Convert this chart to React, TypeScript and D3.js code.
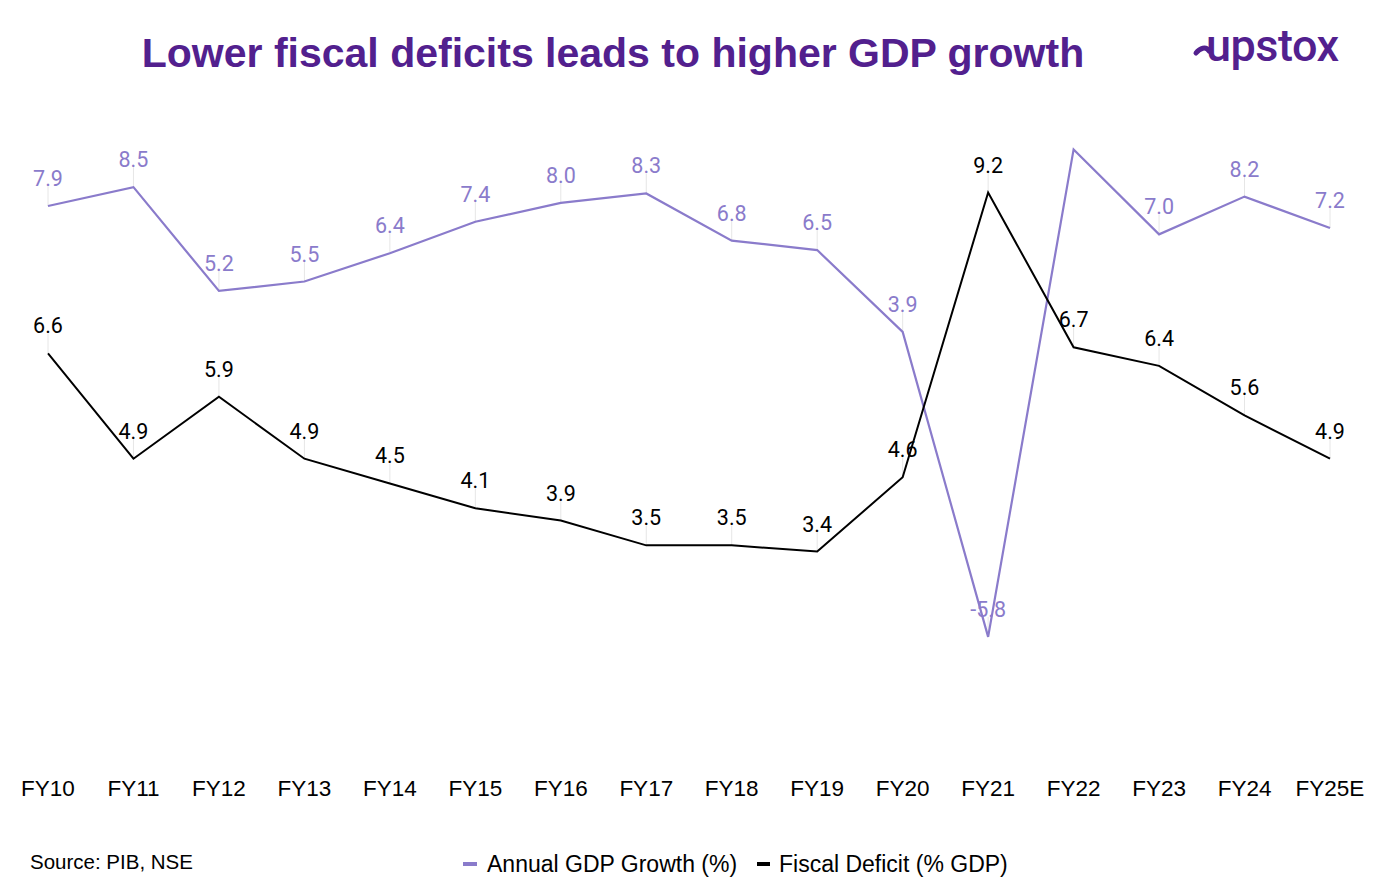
import React from "react";
import * as d3 from "d3";

const categories = ["FY10","FY11","FY12","FY13","FY14","FY15","FY16","FY17","FY18","FY19","FY20","FY21","FY22","FY23","FY24","FY25E"];
const gdpGrowth = [7.9, 8.5, 5.2, 5.5, 6.4, 7.4, 8.0, 8.3, 6.8, 6.5, 3.9, -5.8, 9.7, 7.0, 8.2, 7.2];
const gdpLabelShown = [true,true,true,true,true,true,true,true,true,true,true,true,false,true,true,true];
const fiscalDeficit = [6.6, 4.9, 5.9, 4.9, 4.5, 4.1, 3.9, 3.5, 3.5, 3.4, 4.6, 9.2, 6.7, 6.4, 5.6, 4.9];

const W = 1379, H = 892;
const PURPLE = "#8a7bcb";
const TITLE = "#52208e";

export default function App() {
  const x = d3.scalePoint<string>().domain(categories).range([48, 1330]);
  const yG = d3.scaleLinear().domain([-10, 10]).range([769, 140]);
  const yF = d3.scaleLinear().domain([0, 10]).range([762, 143]);
  const lineG = d3.line<number>().x((_, i) => x(categories[i])!).y((d) => yG(d));
  const lineF = d3.line<number>().x((_, i) => x(categories[i])!).y((d) => yF(d));
  const font = "Roboto, 'Liberation Sans', Arial, sans-serif";
  const arial = "'Liberation Sans', Arial, sans-serif";
  return (
    <svg width={W} height={H} style={{ position: "absolute", left: 0, top: 0, background: "#fff" }}>
      <rect width={W} height={H} fill="#fff" />
      <text x={613} y={67} textAnchor="middle" fontFamily={arial} fontWeight={700} fontSize={41} fill={TITLE}>
        Lower fiscal deficits leads to higher GDP growth
      </text>
      {/* logo */}
      <g>
        <path d="M1196,53 C1200,48 1206,46 1209,51" stroke={TITLE} strokeWidth={5} fill="none" strokeLinecap="round" />
        <text x={1206} y={61} fontFamily={font} fontWeight={500} fontSize={45} fill={TITLE} letterSpacing={-0.5}>upstox</text>
      </g>
      {/* leaders */}
      {gdpGrowth.map((v, i) => gdpLabelShown[i] ? (
        <line key={"lg" + i} x1={x(categories[i])} x2={x(categories[i])} y1={yG(v) - 20} y2={yG(v)} stroke="#e6e6e6" strokeWidth={1} />
      ) : null)}
      {fiscalDeficit.map((v, i) => (
        <line key={"lf" + i} x1={x(categories[i])} x2={x(categories[i])} y1={yF(v) - 20} y2={yF(v)} stroke="#e6e6e6" strokeWidth={1} />
      ))}
      <path d={lineG(gdpGrowth)!} fill="none" stroke={PURPLE} strokeWidth={2.2} strokeLinejoin="miter" />
      <path d={lineF(fiscalDeficit)!} fill="none" stroke="#000" strokeWidth={2} />
      {gdpGrowth.map((v, i) => gdpLabelShown[i] ? (
        <text key={"tg" + i} x={x(categories[i])} y={yG(v) - 20} textAnchor="middle" fontFamily={font} fontSize={21.5} fill={PURPLE}>
          {v.toFixed(1)}
        </text>
      ) : null)}
      {fiscalDeficit.map((v, i) => (
        <text key={"tf" + i} x={x(categories[i])} y={yF(v) - 20} textAnchor="middle" fontFamily={font} fontSize={21.5} fill="#000">
          {v.toFixed(1)}
        </text>
      ))}
      {categories.map((c) => (
        <text key={c} x={x(c)} y={796} textAnchor="middle" fontFamily={arial} fontSize={22.5} fill="#000">{c}</text>
      ))}
      <text x={30} y={869} fontFamily={arial} fontSize={20.5} fill="#000">Source: PIB, NSE</text>
      <g fontFamily={arial} fontSize={23} fill="#000">
        <line x1={463} x2={477} y1={864} y2={864} stroke={PURPLE} strokeWidth={4} />
        <text x={487} y={872}>Annual GDP Growth (%)</text>
        <line x1={757} x2={770} y1={864} y2={864} stroke="#000" strokeWidth={4} />
        <text x={779} y={872}>Fiscal Deficit (% GDP)</text>
      </g>
    </svg>
  );
}
